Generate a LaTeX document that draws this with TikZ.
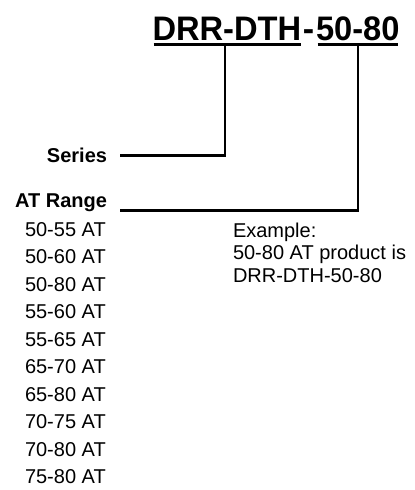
\documentclass[tikz,border=0pt]{standalone}
\usepackage{fontspec}
\setmainfont{Liberation Sans}
\usetikzlibrary{calc}
\begin{document}
\begin{tikzpicture}[x=1pt,y=-1pt,
  txt/.style={inner sep=0pt, outer sep=0pt, font=\fontsize{20}{24}\selectfont},
  boldtxt/.style={inner sep=0pt, outer sep=0pt, font=\fontsize{20}{24}\selectfont\bfseries},
  titletxt/.style={inner sep=0pt, outer sep=0pt, font=\fontsize{34}{40}\selectfont\bfseries},
  conn/.style={line width=2.5pt},
  uline/.style={line width=3pt}]
\useasboundingbox (0,0) rectangle (415,490);
% title
\node[titletxt, anchor=base west] (t1) at (152.5,40) {\scalebox{0.96}[1]{DRR-DTH}};
\node[titletxt, anchor=base] (hy) at (308.5,40) {-};
\node[titletxt, anchor=base west] (t2) at (316,40) {\scalebox{0.96}[1]{50-80}};
\draw[uline] ($(t1.base west)+(1,4.5)$) -- ($(t1.base east)+(0,4.5)$);
\draw[uline] ($(t2.base west)+(1.5,4.5)$) -- ($(t2.base east)+(-1,4.5)$);
% labels
\node[boldtxt, anchor=base east] (series) at (107,162) {Series};
\node[boldtxt, anchor=base east] (range) at (107,207) {AT Range};
\coordinate (u1) at (225,44);
\coordinate (u2) at (358,44);
\coordinate (sL) at (120,155.3);
\coordinate (rL) at (120,210.7);
\draw[conn] (sL) -| (u1);
\draw[conn] (rL) -| (u2);
% list
\foreach \t [count=\i from 0] in {50-55 AT,50-60 AT,50-80 AT,55-60 AT,55-65 AT,65-70 AT,65-80 AT,70-75 AT,70-80 AT,75-80 AT}
  \node[txt, anchor=base west] (item\i) at (25,{236+27.5*\i}) {\t};
% example
\node[txt, anchor=base west] (ex1) at (233,237) {Example:};
\node[txt, anchor=base west] (ex2) at (233,259.5) {50-80 AT product is};
\node[txt, anchor=base west] (ex3) at (233,282) {DRR-DTH-50-80};
\end{tikzpicture}
\end{document}
